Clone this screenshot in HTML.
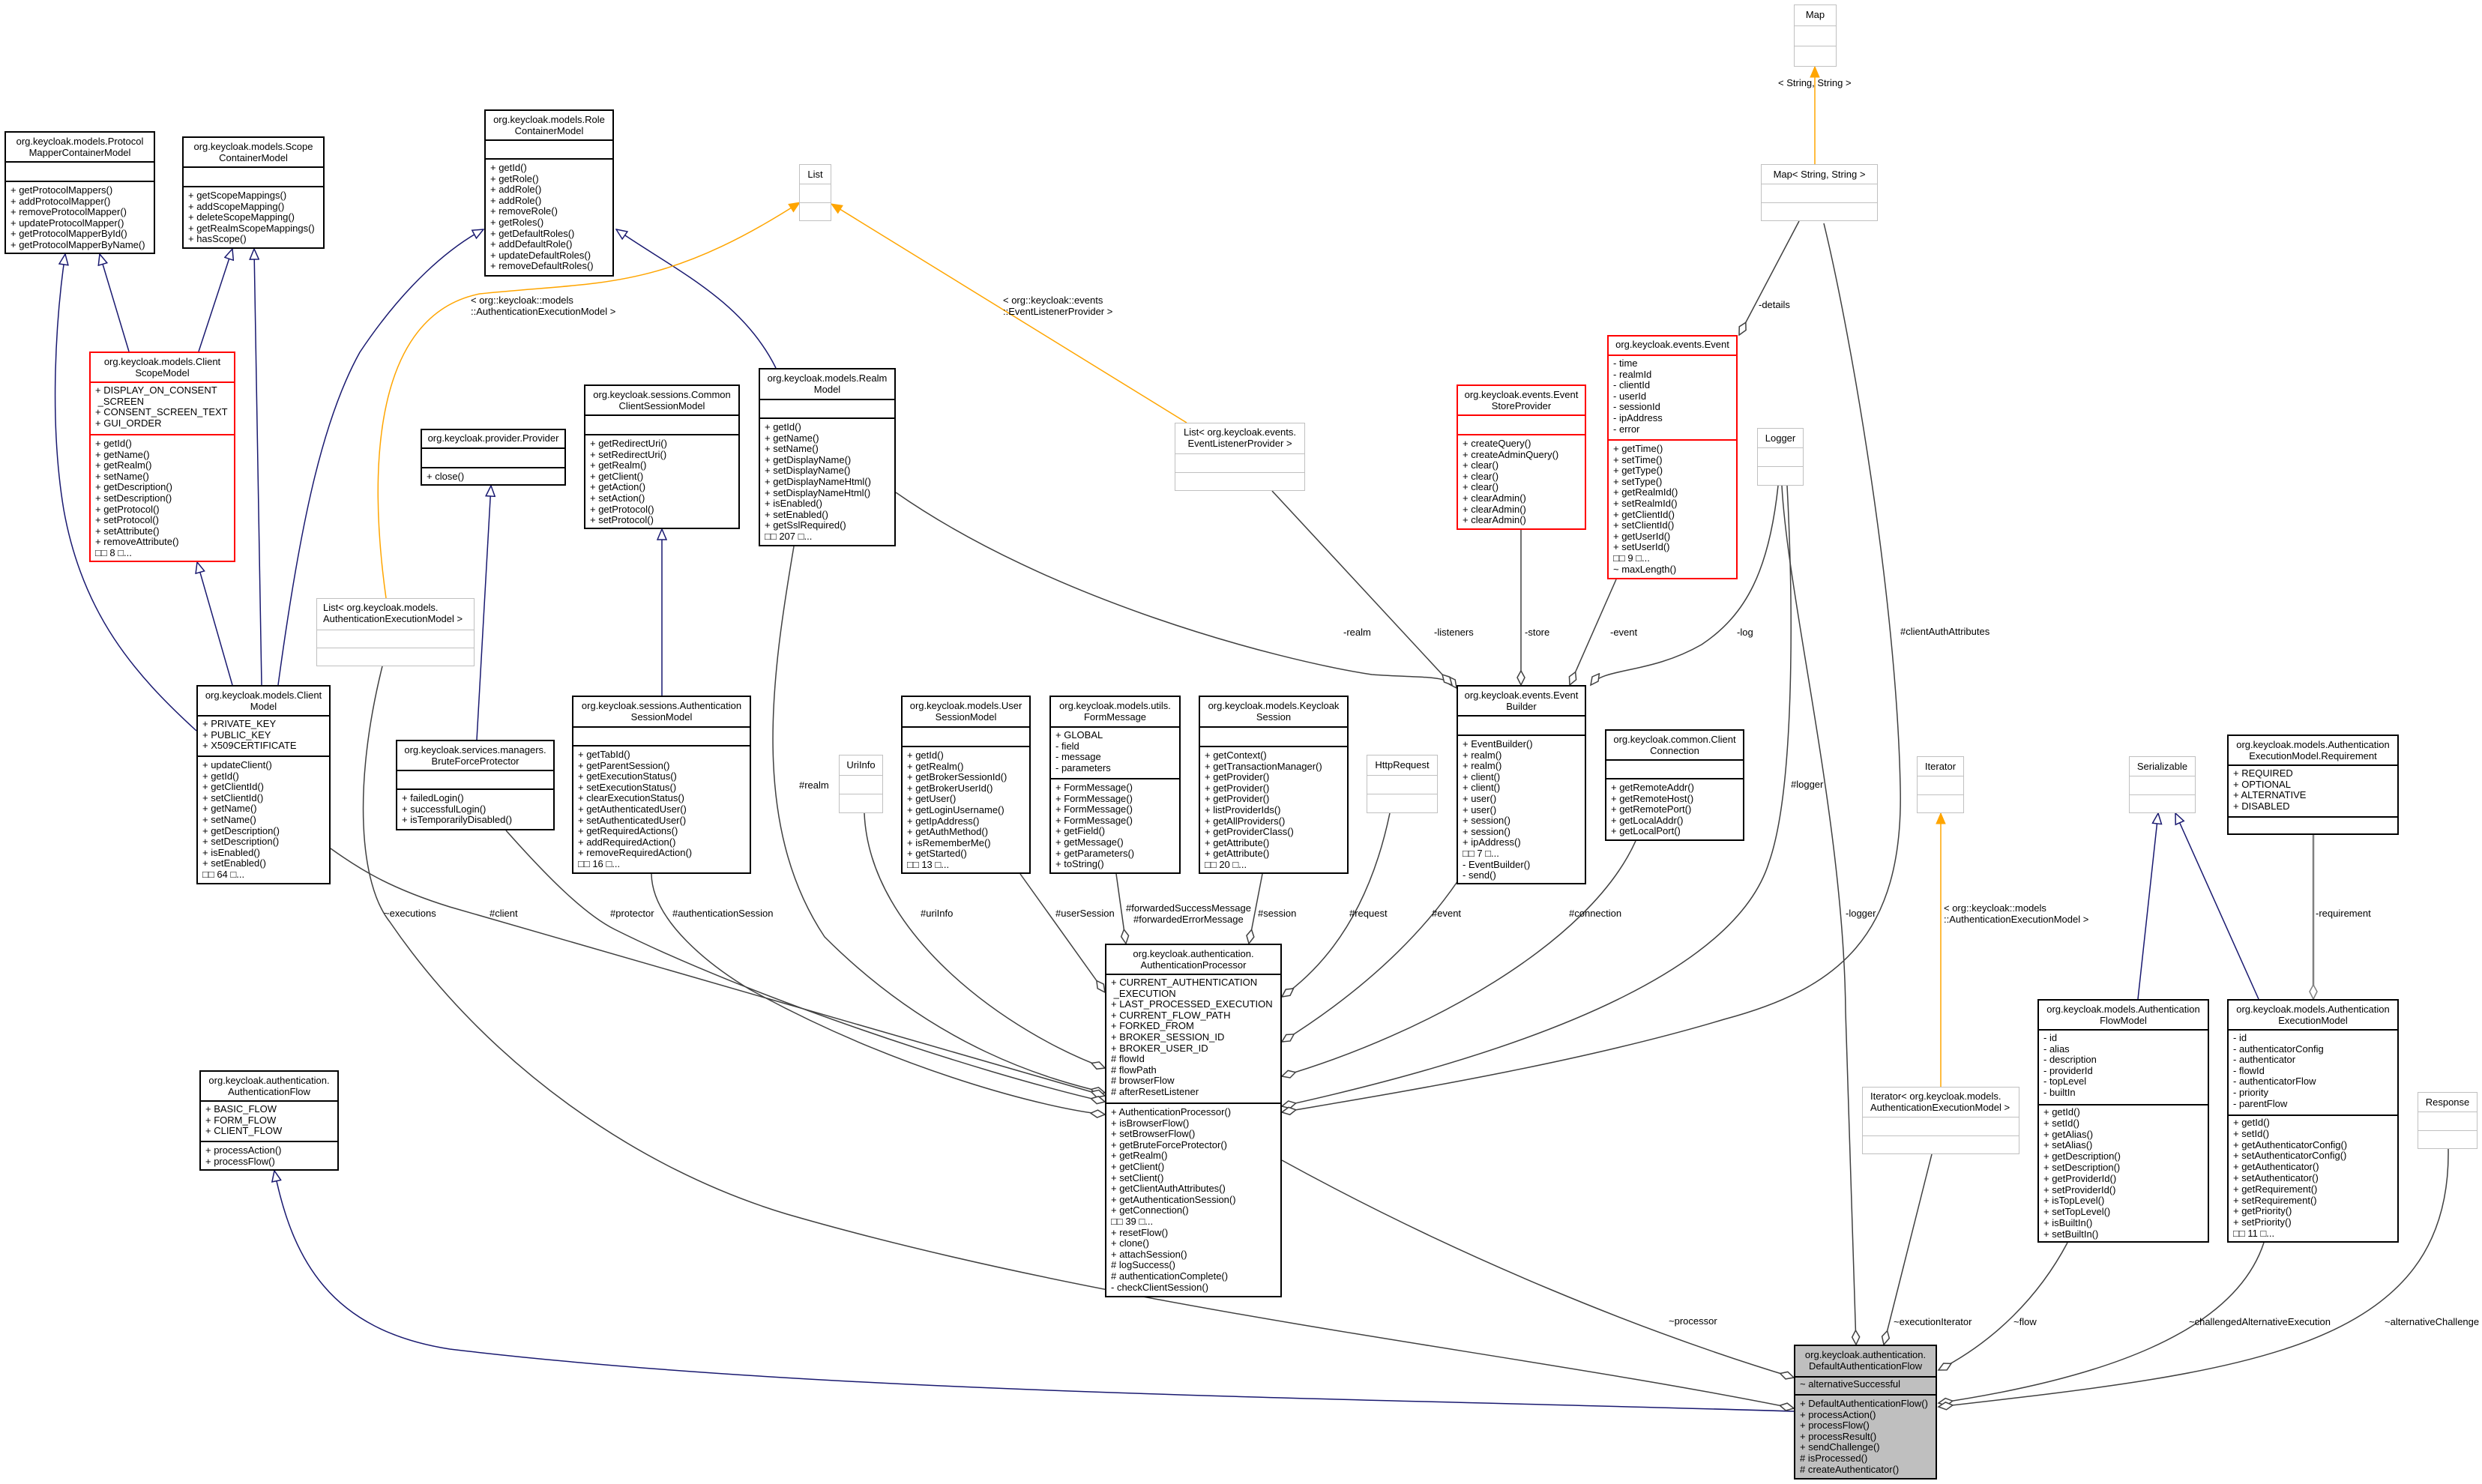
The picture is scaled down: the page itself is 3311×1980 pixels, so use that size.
<!DOCTYPE html>
<html><head><meta charset="utf-8"><style>
html,body{margin:0;padding:0;background:#fff}
#c{position:relative;width:3311px;height:1980px;overflow:hidden;background:#fff}
svg{position:absolute;left:0;top:0}
.b{position:absolute;border:2px solid #000;background:#fff;box-sizing:border-box;font:13px/14.6px "Liberation Sans",sans-serif;color:#000;white-space:nowrap;overflow:hidden}
.b.g{border:1.5px solid #c0c0c0}
.b.r{border-color:#f00}
.b.d{background:#bfbfbf}
.h{text-align:center;border-bottom:2px solid #000;box-sizing:border-box;padding-top:5px}
.g .h,.g .a{border-bottom:1.5px solid #c0c0c0}
.r .h,.r .a{border-bottom-color:#f00}
.a{border-bottom:2px solid #000;box-sizing:border-box;padding:3px 6px}
.m{padding:4px 6px}
.gh{padding-top:6px}
.l{position:absolute;font:13px/15px "Liberation Sans",sans-serif;white-space:nowrap;color:#000}
</style></head><body><div id="c">
<svg width="3311" height="1980" viewBox="0 0 3311 1980">
<defs>
<marker id="tri" markerUnits="userSpaceOnUse" markerWidth="16" markerHeight="14" refX="15" refY="7" orient="auto"><path d="M1,1 L15,7 L1,13 z" fill="#fff" stroke="#191970" stroke-width="1.5"/></marker>
<marker id="otri" markerUnits="userSpaceOnUse" markerWidth="16" markerHeight="14" refX="15" refY="7" orient="auto"><path d="M1,1 L15,7 L1,13 z" fill="#ffa500" stroke="#ffa500" stroke-width="1"/></marker>
<marker id="dia" markerUnits="userSpaceOnUse" markerWidth="22" markerHeight="12" refX="20" refY="6" orient="auto"><path d="M1,6 L10,1 L20,6 L10,11 z" fill="#fff" stroke="#404040" stroke-width="1.5"/></marker>
<marker id="dia2" markerUnits="userSpaceOnUse" markerWidth="22" markerHeight="12" refX="20" refY="6" orient="auto"><path d="M1,6 L10,1 L20,6 L10,11 z" fill="#fff" stroke="#808080" stroke-width="1.5"/></marker>
</defs>
<g fill="none" stroke="#191970" stroke-width="1.5" marker-end="url(#tri)">
<path d="M172,469 L133,339"/>
<path d="M265,469 L310,332"/>
<path d="M262,975 C180,900 110,820 85,680 C65,560 75,420 87,339"/>
<path d="M310,914 L263,750"/>
<path d="M349,914 L339,332"/>
<path d="M371,914 C400,700 430,560 480,470 C540,380 600,330 645,306"/>
<path d="M1035,491 C990,400 900,360 822,306"/>
<path d="M636,987 L655,648"/>
<path d="M883,928 L883,706"/>
<path d="M2852,1333 L2879,1085"/>
<path d="M3013,1333 L2902,1085"/>
<path d="M2393,1883 C1800,1865 1100,1860 600,1800 C440,1775 390,1680 366,1562"/>
</g>
<g fill="none" stroke="#ffa500" stroke-width="1.5" marker-end="url(#otri)">
<path d="M515,798 C490,620 500,420 640,392 C800,375 880,390 1067,270"/>
<path d="M1583,564 L1109,272"/>
<path d="M2589,1450 L2589,1085"/>
<path d="M2421,219 L2421,89"/>
</g>
<g fill="none" stroke="#404040" stroke-width="1.5" marker-end="url(#dia)">
<path d="M510,889 C470,1050 480,1180 520,1230 C650,1420 850,1560 1050,1620 C1500,1750 2000,1800 2393,1879"/>
<path d="M1710,1548 C1950,1680 2200,1780 2393,1838"/>
<path d="M2377,648 C2385,800 2460,1100 2462,1350 L2476,1794"/>
<path d="M2577,1540 L2513,1794"/>
<path d="M2758,1658 C2720,1730 2660,1790 2586,1828"/>
<path d="M3020,1658 C2980,1780 2800,1840 2586,1872"/>
<path d="M3266,1533 C3270,1800 3000,1830 2586,1877"/>
<path d="M1059,729 C1030,900 1000,1100 1100,1250 C1250,1400 1400,1440 1474,1458"/>
<path d="M1153,1085 C1160,1250 1350,1380 1474,1425"/>
<path d="M1361,1166 L1474,1324"/>
<path d="M441,1132 C480,1160 520,1185 600,1210 L1474,1462"/>
<path d="M675,1108 C730,1170 780,1220 820,1240 C1000,1330 1300,1430 1474,1470"/>
<path d="M869,1166 C870,1230 950,1290 1000,1320 C1200,1430 1400,1480 1474,1487"/>
<path d="M1489,1166 L1502,1259"/>
<path d="M1684,1166 L1666,1259"/>
<path d="M1854,1085 C1830,1200 1780,1280 1710,1330"/>
<path d="M1945,1175 C1880,1270 1790,1340 1710,1390"/>
<path d="M2182,1122 C2120,1260 1900,1380 1710,1436"/>
<path d="M2384,648 C2392,800 2395,1050 2360,1150 C2320,1280 2100,1390 1710,1476"/>
<path d="M2433,298 C2470,450 2530,800 2535,1050 C2540,1250 2450,1320 2300,1360 C2100,1420 1850,1460 1710,1484"/>
<path d="M1195,657 C1400,800 1700,880 1830,900 C1900,905 1930,900 1943,918"/>
<path d="M1697,655 L1937,914"/>
<path d="M2029,707 L2029,914"/>
<path d="M2156,773 L2094,914"/>
<path d="M2372,648 C2360,760 2330,820 2270,860 C2200,900 2140,890 2122,914"/>
<path d="M2400,295 L2320,447"/>
</g>
<path d="M3086,1114 L3086,1333" fill="none" stroke="#808080" stroke-width="2.5" marker-end="url(#dia2)"/>
</svg>

<div class="l" style="left:628px;top:393px">&lt; org::keycloak::models<br>::AuthenticationExecutionModel &gt;</div>
<div class="l" style="left:1338px;top:393px">&lt; org::keycloak::events<br>::EventListenerProvider &gt;</div>
<div class="l" style="left:2372px;top:103px">&lt; String, String &gt;</div>
<div class="l" style="left:2346px;top:399px">-details</div>
<div class="l" style="left:1792px;top:836px">-realm</div>
<div class="l" style="left:1913px;top:836px">-listeners</div>
<div class="l" style="left:2034px;top:836px">-store</div>
<div class="l" style="left:2148px;top:836px">-event</div>
<div class="l" style="left:2317px;top:836px">-log</div>
<div class="l" style="left:2535px;top:835px">#clientAuthAttributes</div>
<div class="l" style="left:2389px;top:1039px">#logger</div>
<div class="l" style="left:1066px;top:1040px">#realm</div>
<div class="l" style="left:512px;top:1211px">~executions</div>
<div class="l" style="left:653px;top:1211px">#client</div>
<div class="l" style="left:814px;top:1211px">#protector</div>
<div class="l" style="left:897px;top:1211px">#authenticationSession</div>
<div class="l" style="left:1228px;top:1211px">#uriInfo</div>
<div class="l" style="left:1408px;top:1211px">#userSession</div>
<div class="l" style="left:1502px;top:1204px">#forwardedSuccessMessage</div>
<div class="l" style="left:1512px;top:1219px">#forwardedErrorMessage</div>
<div class="l" style="left:1678px;top:1211px">#session</div>
<div class="l" style="left:1800px;top:1211px">#request</div>
<div class="l" style="left:1910px;top:1211px">#event</div>
<div class="l" style="left:2093px;top:1211px">#connection</div>
<div class="l" style="left:2462px;top:1211px">-logger</div>
<div class="l" style="left:2593px;top:1204px">&lt; org::keycloak::models<br>::AuthenticationExecutionModel &gt;</div>
<div class="l" style="left:3089px;top:1211px">-requirement</div>
<div class="l" style="left:2226px;top:1755px">~processor</div>
<div class="l" style="left:2526px;top:1756px">~executionIterator</div>
<div class="l" style="left:2686px;top:1756px">~flow</div>
<div class="l" style="left:2920px;top:1756px">~challengedAlternativeExecution</div>
<div class="l" style="left:3181px;top:1756px">~alternativeChallenge</div>

<div class="b" style="left:6px;top:175px;width:201px;height:164px"><div class="h" style="height:40px">org.keycloak.models.Protocol<br>MapperContainerModel</div><div class="a" style="height:26px"></div><div class="m">+ getProtocolMappers()<br>+ addProtocolMapper()<br>+ removeProtocolMapper()<br>+ updateProtocolMapper()<br>+ getProtocolMapperById()<br>+ getProtocolMapperByName()</div></div>

<div class="b" style="left:243px;top:182px;width:190px;height:150px"><div class="h" style="height:40px">org.keycloak.models.Scope<br>ContainerModel</div><div class="a" style="height:26px"></div><div class="m">+ getScopeMappings()<br>+ addScopeMapping()<br>+ deleteScopeMapping()<br>+ getRealmScopeMappings()<br>+ hasScope()</div></div>

<div class="b" style="left:646px;top:146px;width:173px;height:223px"><div class="h" style="height:40px">org.keycloak.models.Role<br>ContainerModel</div><div class="a" style="height:25px"></div><div class="m">+ getId()<br>+ getRole()<br>+ addRole()<br>+ addRole()<br>+ removeRole()<br>+ getRoles()<br>+ getDefaultRoles()<br>+ addDefaultRole()<br>+ updateDefaultRoles()<br>+ removeDefaultRoles()</div></div>

<div class="b g" style="left:1066px;top:219px;width:43px;height:76px"><div class="h gh" style="height:26px">List</div><div class="a" style="height:25px"></div></div>

<div class="b r" style="left:119px;top:469px;width:195px;height:281px"><div class="h" style="height:40px">org.keycloak.models.Client<br>ScopeModel</div><div class="a" style="height:70px">+ DISPLAY_ON_CONSENT<br>&nbsp;_SCREEN<br>+ CONSENT_SCREEN_TEXT<br>+ GUI_ORDER</div><div class="m">+ getId()<br>+ getName()<br>+ getRealm()<br>+ setName()<br>+ getDescription()<br>+ setDescription()<br>+ getProtocol()<br>+ setProtocol()<br>+ setAttribute()<br>+ removeAttribute()<br>□□ 8 □...</div></div>

<div class="b" style="left:561px;top:572px;width:194px;height:76px"><div class="h" style="height:25px;padding-top:4px">org.keycloak.provider.Provider</div><div class="a" style="height:26px"></div><div class="m">+ close()</div></div>

<div class="b" style="left:779px;top:513px;width:208px;height:193px"><div class="h" style="height:40px">org.keycloak.sessions.Common<br>ClientSessionModel</div><div class="a" style="height:26px"></div><div class="m">+ getRedirectUri()<br>+ setRedirectUri()<br>+ getRealm()<br>+ getClient()<br>+ getAction()<br>+ setAction()<br>+ getProtocol()<br>+ setProtocol()</div></div>

<div class="b" style="left:1012px;top:491px;width:183px;height:238px"><div class="h" style="height:41px">org.keycloak.models.Realm<br>Model</div><div class="a" style="height:25px"></div><div class="m">+ getId()<br>+ getName()<br>+ setName()<br>+ getDisplayName()<br>+ setDisplayName()<br>+ getDisplayNameHtml()<br>+ setDisplayNameHtml()<br>+ isEnabled()<br>+ setEnabled()<br>+ getSslRequired()<br>□□ 207 □...</div></div>

<div class="b g" style="left:422px;top:798px;width:211px;height:91px"><div class="h" style="height:42px;text-align:left;padding-left:8px">List&lt; org.keycloak.models.<br>AuthenticationExecutionModel &gt;</div><div class="a" style="height:24px"></div></div>

<div class="b g" style="left:1567px;top:564px;width:174px;height:91px"><div class="h" style="height:41px">List&lt; org.keycloak.events.<br>EventListenerProvider &gt;</div><div class="a" style="height:25px"></div></div>

<div class="b r" style="left:1943px;top:513px;width:173px;height:194px"><div class="h" style="height:40px">org.keycloak.events.Event<br>StoreProvider</div><div class="a" style="height:26px"></div><div class="m">+ createQuery()<br>+ createAdminQuery()<br>+ clear()<br>+ clear()<br>+ clear()<br>+ clearAdmin()<br>+ clearAdmin()<br>+ clearAdmin()</div></div>

<div class="b r" style="left:2144px;top:447px;width:174px;height:326px"><div class="h" style="height:26px;padding-top:4px">org.keycloak.events.Event</div><div class="a" style="height:113px">- time<br>- realmId<br>- clientId<br>- userId<br>- sessionId<br>- ipAddress<br>- error</div><div class="m">+ getTime()<br>+ setTime()<br>+ getType()<br>+ setType()<br>+ getRealmId()<br>+ setRealmId()<br>+ getClientId()<br>+ setClientId()<br>+ getUserId()<br>+ setUserId()<br>□□ 9 □...<br>~ maxLength()</div></div>

<div class="b g" style="left:2344px;top:571px;width:62px;height:77px"><div class="h gh" style="height:26px">Logger</div><div class="a" style="height:25px"></div></div>
<div class="b g" style="left:2349px;top:219px;width:156px;height:76px"><div class="h gh" style="height:26px">Map&lt; String, String &gt;</div><div class="a" style="height:25px"></div></div>
<div class="b g" style="left:2393px;top:6px;width:57px;height:83px"><div class="h gh" style="height:28px">Map</div><div class="a" style="height:27px"></div></div>

<div class="b" style="left:262px;top:914px;width:179px;height:266px"><div class="h" style="height:40px">org.keycloak.models.Client<br>Model</div><div class="a" style="height:54px">+ PRIVATE_KEY<br>+ PUBLIC_KEY<br>+ X509CERTIFICATE</div><div class="m">+ updateClient()<br>+ getId()<br>+ getClientId()<br>+ setClientId()<br>+ getName()<br>+ setName()<br>+ getDescription()<br>+ setDescription()<br>+ isEnabled()<br>+ setEnabled()<br>□□ 64 □...</div></div>

<div class="b" style="left:528px;top:987px;width:212px;height:121px"><div class="h" style="height:40px">org.keycloak.services.managers.<br>BruteForceProtector</div><div class="a" style="height:25px"></div><div class="m">+ failedLogin()<br>+ successfulLogin()<br>+ isTemporarilyDisabled()</div></div>

<div class="b" style="left:763px;top:928px;width:239px;height:238px"><div class="h" style="height:41px">org.keycloak.sessions.Authentication<br>SessionModel</div><div class="a" style="height:25px"></div><div class="m">+ getTabId()<br>+ getParentSession()<br>+ getExecutionStatus()<br>+ setExecutionStatus()<br>+ clearExecutionStatus()<br>+ getAuthenticatedUser()<br>+ setAuthenticatedUser()<br>+ getRequiredActions()<br>+ addRequiredAction()<br>+ removeRequiredAction()<br>□□ 16 □...</div></div>

<div class="b g" style="left:1119px;top:1007px;width:59px;height:78px"><div class="h gh" style="height:27px">UriInfo</div><div class="a" style="height:25px"></div></div>

<div class="b" style="left:1202px;top:928px;width:173px;height:238px"><div class="h" style="height:41px">org.keycloak.models.User<br>SessionModel</div><div class="a" style="height:26px"></div><div class="m">+ getId()<br>+ getRealm()<br>+ getBrokerSessionId()<br>+ getBrokerUserId()<br>+ getUser()<br>+ getLoginUsername()<br>+ getIpAddress()<br>+ getAuthMethod()<br>+ isRememberMe()<br>+ getStarted()<br>□□ 13 □...</div></div>

<div class="b" style="left:1400px;top:928px;width:175px;height:238px"><div class="h" style="height:41px">org.keycloak.models.utils.<br>FormMessage</div><div class="a" style="height:69px">+ GLOBAL<br>- field<br>- message<br>- parameters</div><div class="m">+ FormMessage()<br>+ FormMessage()<br>+ FormMessage()<br>+ FormMessage()<br>+ getField()<br>+ getMessage()<br>+ getParameters()<br>+ toString()</div></div>

<div class="b" style="left:1599px;top:928px;width:200px;height:238px"><div class="h" style="height:41px">org.keycloak.models.Keycloak<br>Session</div><div class="a" style="height:26px"></div><div class="m">+ getContext()<br>+ getTransactionManager()<br>+ getProvider()<br>+ getProvider()<br>+ getProvider()<br>+ listProviderIds()<br>+ getAllProviders()<br>+ getProviderClass()<br>+ getAttribute()<br>+ getAttribute()<br>□□ 20 □...</div></div>

<div class="b g" style="left:1823px;top:1007px;width:95px;height:78px"><div class="h gh" style="height:27px">HttpRequest</div><div class="a" style="height:25px"></div></div>

<div class="b" style="left:1943px;top:914px;width:173px;height:266px"><div class="h" style="height:40px">org.keycloak.events.Event<br>Builder</div><div class="a" style="height:26px"></div><div class="m">+ EventBuilder()<br>+ realm()<br>+ realm()<br>+ client()<br>+ client()<br>+ user()<br>+ user()<br>+ session()<br>+ session()<br>+ ipAddress()<br>□□ 7 □...<br>- EventBuilder()<br>- send()</div></div>

<div class="b" style="left:2141px;top:973px;width:186px;height:149px"><div class="h" style="height:40px">org.keycloak.common.Client<br>Connection</div><div class="a" style="height:25px"></div><div class="m">+ getRemoteAddr()<br>+ getRemoteHost()<br>+ getRemotePort()<br>+ getLocalAddr()<br>+ getLocalPort()</div></div>

<div class="b" style="left:1474px;top:1259px;width:236px;height:472px"><div class="h" style="height:40px">org.keycloak.authentication.<br>AuthenticationProcessor</div><div class="a" style="height:172px">+ CURRENT_AUTHENTICATION<br>&nbsp;_EXECUTION<br>+ LAST_PROCESSED_EXECUTION<br>+ CURRENT_FLOW_PATH<br>+ FORKED_FROM<br>+ BROKER_SESSION_ID<br>+ BROKER_USER_ID<br># flowId<br># flowPath<br># browserFlow<br># afterResetListener</div><div class="m">+ AuthenticationProcessor()<br>+ isBrowserFlow()<br>+ setBrowserFlow()<br>+ getBruteForceProtector()<br>+ getRealm()<br>+ getClient()<br>+ setClient()<br>+ getClientAuthAttributes()<br>+ getAuthenticationSession()<br>+ getConnection()<br>□□ 39 □...<br>+ resetFlow()<br>+ clone()<br>+ attachSession()<br># logSuccess()<br># authenticationComplete()<br>- checkClientSession()</div></div>

<div class="b g" style="left:2557px;top:1009px;width:63px;height:76px"><div class="h gh" style="height:26px">Iterator</div><div class="a" style="height:25px"></div></div>
<div class="b g" style="left:2840px;top:1009px;width:89px;height:76px"><div class="h gh" style="height:26px">Serializable</div><div class="a" style="height:25px"></div></div>

<div class="b" style="left:2971px;top:980px;width:229px;height:134px"><div class="h" style="height:40px">org.keycloak.models.Authentication<br>ExecutionModel.Requirement</div><div class="a" style="height:69px">+ REQUIRED<br>+ OPTIONAL<br>+ ALTERNATIVE<br>+ DISABLED</div></div>

<div class="b" style="left:266px;top:1428px;width:186px;height:134px"><div class="h" style="height:40px">org.keycloak.authentication.<br>AuthenticationFlow</div><div class="a" style="height:54px">+ BASIC_FLOW<br>+ FORM_FLOW<br>+ CLIENT_FLOW</div><div class="m">+ processAction()<br>+ processFlow()</div></div>

<div class="b g" style="left:2484px;top:1450px;width:210px;height:90px"><div class="h" style="height:40px;text-align:left;padding-left:10px">Iterator&lt; org.keycloak.models.<br>AuthenticationExecutionModel &gt;</div><div class="a" style="height:25px"></div></div>

<div class="b" style="left:2718px;top:1333px;width:229px;height:325px"><div class="h" style="height:40px">org.keycloak.models.Authentication<br>FlowModel</div><div class="a" style="height:100px">- id<br>- alias<br>- description<br>- providerId<br>- topLevel<br>- builtIn</div><div class="m" style="line-height:14.8px;padding-top:2px">+ getId()<br>+ setId()<br>+ getAlias()<br>+ setAlias()<br>+ getDescription()<br>+ setDescription()<br>+ getProviderId()<br>+ setProviderId()<br>+ isTopLevel()<br>+ setTopLevel()<br>+ isBuiltIn()<br>+ setBuiltIn()</div></div>

<div class="b" style="left:2971px;top:1333px;width:229px;height:325px"><div class="h" style="height:40px">org.keycloak.models.Authentication<br>ExecutionModel</div><div class="a" style="height:114px">- id<br>- authenticatorConfig<br>- authenticator<br>- flowId<br>- authenticatorFlow<br>- priority<br>- parentFlow</div><div class="m" style="line-height:14.8px;padding-top:2px">+ getId()<br>+ setId()<br>+ getAuthenticatorConfig()<br>+ setAuthenticatorConfig()<br>+ getAuthenticator()<br>+ setAuthenticator()<br>+ getRequirement()<br>+ setRequirement()<br>+ getPriority()<br>+ setPriority()<br>□□ 11 □...</div></div>

<div class="b g" style="left:3225px;top:1457px;width:80px;height:76px"><div class="h gh" style="height:26px">Response</div><div class="a" style="height:25px"></div></div>

<div class="b d" style="left:2393px;top:1794px;width:191px;height:180px"><div class="h" style="height:42px">org.keycloak.authentication.<br>DefaultAuthenticationFlow</div><div class="a" style="height:24px;padding-top:2px">~ alternativeSuccessful</div><div class="m">+ DefaultAuthenticationFlow()<br>+ processAction()<br>+ processFlow()<br>+ processResult()<br>+ sendChallenge()<br># isProcessed()<br># createAuthenticator()</div></div>

</div></body></html>
